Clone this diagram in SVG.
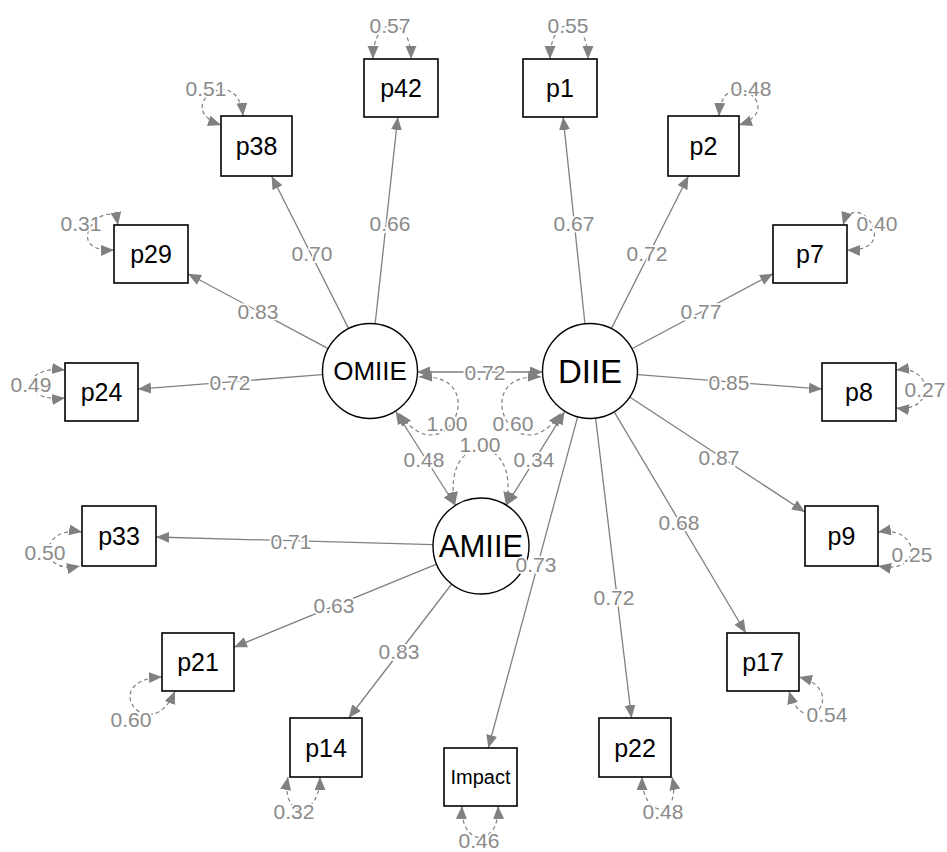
<svg xmlns="http://www.w3.org/2000/svg" width="947" height="852" viewBox="0 0 947 852">
<defs>
<marker id="ah" markerUnits="userSpaceOnUse" markerWidth="14" markerHeight="12" refX="13" refY="5.5" orient="auto-start-reverse">
<path d="M0,0 L13,5.5 L0,11 z" fill="#808080"/>
</marker>
<style>
.box{fill:#fff;stroke:#000;stroke-width:1.6}
.lat{fill:#fff;stroke:#000;stroke-width:1.4}
.ml{font-family:"Liberation Sans",Arial,sans-serif;fill:#000;text-anchor:middle}
.e{fill:none;stroke:#808080;stroke-width:1.3;marker-end:url(#ah)}
.c{fill:none;stroke:#808080;stroke-width:1.3;marker-start:url(#ah);marker-end:url(#ah)}
.v{fill:none;stroke:#808080;stroke-width:1.2;stroke-dasharray:4 3;marker-start:url(#ah);marker-end:url(#ah)}
.lb{font-family:"Liberation Sans",Arial,sans-serif;font-size:21px;fill:#8a8a8a;text-anchor:middle;stroke:#fff;stroke-width:3.5;paint-order:stroke}
</style>
</defs>
<rect width="947" height="852" fill="#fff"/>
<g id="connectors">
<path class="e" d="M375.2,323.3 L397.8,117"/>
<path class="e" d="M348.4,328.1 L271.6,176"/>
<path class="e" d="M327.7,348.4 L188,273.8"/>
<path class="e" d="M322.1,374.7 L138,389.1"/>
<path class="e" d="M584.9,323.3 L563.1,117"/>
<path class="e" d="M611.6,328.1 L688.4,176"/>
<path class="e" d="M632.4,348.5 L773,273.7"/>
<path class="e" d="M637.9,374.7 L822,389.1"/>
<path class="e" d="M630.1,397.3 L805,512.1"/>
<path class="e" d="M614.5,412.3 L745.8,633"/>
<path class="e" d="M595.7,418.7 L631.5,718"/>
<path class="e" d="M577.5,417.3 L488.3,748"/>
<path class="e" d="M433,544.7 L156,537"/>
<path class="e" d="M436.6,564.2 L234,647.2"/>
<path class="e" d="M451.7,584 L348.7,718"/>
<path class="c" d="M417,372 L543,372"/>
<path class="c" d="M395.7,411.5 L455.3,505.5"/>
<path class="c" d="M564.6,411.7 L506.4,505.3"/>
<path class="v" d="M419,377 C495,372 445,480 399,413"/>
<path class="v" d="M541,377 C465,372 515,480 561,413"/>
<path class="v" d="M455,505 C440,430 522,430 506,505"/>
<path class="v" d="M373,59 C373,14 411,14 411,59"/>
<path class="v" d="M550,59 C550,14 588,14 588,59"/>
<path class="v" d="M243,116 C238,60 170,108 221,125"/>
<path class="v" d="M719,116 C722,60 790,108 739,125"/>
<path class="v" d="M118,225 C112,190 55,252 114,250"/>
<path class="v" d="M843,225 C855,185 905,252 847,250"/>
<path class="v" d="M65,370 C20,365 20,403 65,398"/>
<path class="v" d="M896,370 C935,365 935,413 896,408"/>
<path class="v" d="M82,532 C40,525 35,575 80,566"/>
<path class="v" d="M878,532 C920,525 925,575 878,566"/>
<path class="v" d="M162,677 C95,680 150,750 175,691"/>
<path class="v" d="M799,677 C850,690 805,745 789,691"/>
<path class="v" d="M288,777 C280,820 320,820 320,777"/>
<path class="v" d="M462,806 C460,848 500,848 498,806"/>
<path class="v" d="M642,777 C642,820 682,820 672,777"/>
</g>
<g id="OMIIE"><circle class="lat" cx="370" cy="371" r="47.5"/><text class="ml" x="370" y="380" font-size="26">OMIIE</text></g>
<g id="DIIE"><circle class="lat" cx="590" cy="371" r="47.5"/><text class="ml" x="590" y="383" font-size="33">DIIE</text></g>
<g id="AMIIE"><circle class="lat" cx="481" cy="546" r="48"/><text class="ml" x="481" y="557" font-size="31">AMIIE</text></g>
<g id="p42"><rect class="box" x="364" y="59" width="74" height="58"/><text class="ml" x="401" y="97" font-size="25">p42</text></g>
<g id="p38"><rect class="box" x="221" y="116" width="71" height="60"/><text class="ml" x="256.5" y="155" font-size="25">p38</text></g>
<g id="p1"><rect class="box" x="523" y="59" width="74" height="58"/><text class="ml" x="560" y="97" font-size="25">p1</text></g>
<g id="p2"><rect class="box" x="668" y="116" width="71" height="60"/><text class="ml" x="703.5" y="155" font-size="25">p2</text></g>
<g id="p29"><rect class="box" x="114" y="225" width="74" height="58"/><text class="ml" x="151" y="263" font-size="25">p29</text></g>
<g id="p24"><rect class="box" x="65" y="363" width="73" height="58"/><text class="ml" x="101.5" y="401" font-size="25">p24</text></g>
<g id="p7"><rect class="box" x="773" y="225" width="74" height="58"/><text class="ml" x="810" y="263" font-size="25">p7</text></g>
<g id="p8"><rect class="box" x="822" y="363" width="74" height="58"/><text class="ml" x="859" y="401" font-size="25">p8</text></g>
<g id="p33"><rect class="box" x="82" y="506" width="74" height="60"/><text class="ml" x="119" y="545" font-size="25">p33</text></g>
<g id="p21"><rect class="box" x="162" y="633" width="72" height="58"/><text class="ml" x="198" y="671" font-size="25">p21</text></g>
<g id="p9"><rect class="box" x="805" y="506" width="73" height="60"/><text class="ml" x="841.5" y="545" font-size="25">p9</text></g>
<g id="p17"><rect class="box" x="727" y="633" width="72" height="58"/><text class="ml" x="763" y="671" font-size="25">p17</text></g>
<g id="p14"><rect class="box" x="290" y="718" width="72" height="59"/><text class="ml" x="326" y="756.5" font-size="25">p14</text></g>
<g id="Impact"><rect class="box" x="444" y="748" width="73" height="58"/><text class="ml" x="480.5" y="784" font-size="20">Impact</text></g>
<g id="p22"><rect class="box" x="599" y="718" width="72" height="59"/><text class="ml" x="635" y="756.5" font-size="25">p22</text></g>
<g id="edge-labels">
<text class="lb" x="390" y="231">0.66</text>
<text class="lb" x="312" y="261">0.70</text>
<text class="lb" x="258" y="319">0.83</text>
<text class="lb" x="230" y="390">0.72</text>
<text class="lb" x="574" y="231">0.67</text>
<text class="lb" x="647" y="261">0.72</text>
<text class="lb" x="701" y="319">0.77</text>
<text class="lb" x="729" y="390">0.85</text>
<text class="lb" x="719" y="465">0.87</text>
<text class="lb" x="679" y="530">0.68</text>
<text class="lb" x="614" y="605">0.72</text>
<text class="lb" x="536" y="572">0.73</text>
<text class="lb" x="291" y="549">0.71</text>
<text class="lb" x="334" y="613">0.63</text>
<text class="lb" x="399" y="659">0.83</text>
<text class="lb" x="485" y="380">0.72</text>
<text class="lb" x="424" y="467">0.48</text>
<text class="lb" x="534" y="467">0.34</text>
<text class="lb" x="447" y="431">1.00</text>
<text class="lb" x="513" y="431">0.60</text>
<text class="lb" x="480" y="452">1.00</text>
<text class="lb" x="390" y="33">0.57</text>
<text class="lb" x="568" y="33">0.55</text>
<text class="lb" x="206" y="96">0.51</text>
<text class="lb" x="751" y="96">0.48</text>
<text class="lb" x="81" y="231">0.31</text>
<text class="lb" x="877" y="231">0.40</text>
<text class="lb" x="31" y="392">0.49</text>
<text class="lb" x="925" y="397">0.27</text>
<text class="lb" x="45" y="560">0.50</text>
<text class="lb" x="912" y="562">0.25</text>
<text class="lb" x="131" y="727">0.60</text>
<text class="lb" x="827" y="722">0.54</text>
<text class="lb" x="294" y="819">0.32</text>
<text class="lb" x="479" y="848">0.46</text>
<text class="lb" x="663" y="819">0.48</text>
</g>
</svg>
